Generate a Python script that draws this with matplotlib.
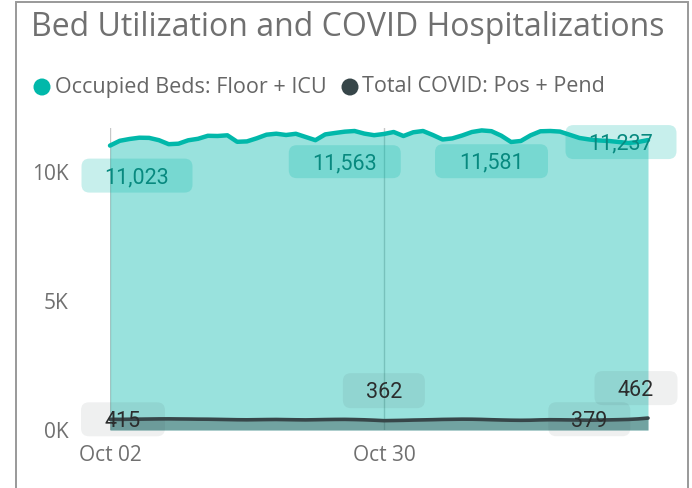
import matplotlib
matplotlib.use("Agg")
import matplotlib.pyplot as plt
import matplotlib.dates as mdates
from matplotlib.patches import FancyBboxPatch, Rectangle, Circle
from matplotlib.transforms import IdentityTransform
import pandas as pd

# ---------------- data ----------------
dates = pd.date_range("2020-10-02", periods=56, freq="D")
beds = [11023, 11209, 11279, 11329, 11322, 11233, 11078, 11097, 11229, 11287,
        11403, 11395, 11422, 11170, 11186, 11306, 11446, 11484, 11434, 11481,
        11357, 11233, 11457, 11512, 11563, 11589, 11488, 11426, 11473, 11550,
        11395, 11539, 11589, 11434, 11260, 11302, 11415, 11550, 11612, 11581,
        11407, 11163, 11202, 11422, 11578, 11589, 11566, 11442, 11318, 11260,
        11221, 11202, 11163, 11124, 11163, 11237]
covid = [415, 412, 418, 420, 425, 430, 432, 428, 425, 420,
         418, 412, 405, 398, 395, 400, 405, 408, 402, 396,
         392, 398, 405, 410, 412, 405, 395, 380, 362, 368,
         375, 385, 392, 400, 410, 415, 420, 418, 410, 398,
         388, 380, 376, 380, 392, 398, 395, 390, 385, 379,
         385, 392, 400, 410, 430, 462]
series_names = ["Occupied Beds: Floor + ICU", "Total COVID: Pos + Pend"]
title = "Bed Utilization and COVID Hospitalizations"
tick_dates = ["2020-10-02", "2020-10-30"]
tick_labels = ["Oct 02", "Oct 30"]
y_ticks = [0, 5000, 10000]
y_tick_labels = ["0K", "5K", "10K"]

# ---------------- style ----------------
TEAL = "#01B8AA"
DARK = "#374649"
GREY_TXT = "#707070"
UI_FONT = ["Open Sans", "DejaVu Sans"]
LBL_FONT = ["Roboto", "DejaVu Sans"]

W, H = 692, 488
fig = plt.figure(figsize=(W / 100, H / 100), dpi=100)


def rect_px(x0, y0, x1, y1):
    return [x0 / W, 1 - y1 / H, (x1 - x0) / W, (y1 - y0) / H]


ax = fig.add_axes(rect_px(110, 128, 648, 430))
x = mdates.date2num(dates)

ax.fill_between(x, 0, beds, color=TEAL, alpha=0.4, lw=0, zorder=2)
ax.fill_between(x, 0, covid, color=DARK, alpha=0.4, lw=0, zorder=3)
ax.plot(x, beds, color=TEAL, lw=3.2, solid_joinstyle="round",
        solid_capstyle="round", zorder=5, clip_on=False)
ax.plot(x, covid, color=DARK, lw=2.6, solid_joinstyle="round",
        solid_capstyle="round", zorder=5, clip_on=False)

ax.set_xlim(x[0], x[-1])
ax.set_ylim(0, 11705)

ax.set_xticks(mdates.date2num(pd.to_datetime(tick_dates)))
ax.set_xticklabels(tick_labels, family=UI_FONT, fontsize=15, color=GREY_TXT)
ax.set_yticks(y_ticks)
ax.set_yticklabels(y_tick_labels, family=UI_FONT, fontsize=15, color=GREY_TXT)
ax.tick_params(axis="x", length=0, pad=10.5)
ax.tick_params(axis="y", length=0, pad=30)
for s in ax.spines.values():
    s.set_visible(False)
ax.grid(axis="x", color="#C8C8C8", lw=1)
ax.grid(axis="y", visible=False)
ax.set_axisbelow(True)

# ---------------- data labels ----------------
teal_box = (1 / 255, 184 / 255, 170 / 255, 0.22)
dark_box = (55 / 255, 70 / 255, 73 / 255, 0.08)

# (values, index, dx_px, dy_px (down), w, h, facecolor, textcolor)
label_specs = [
    (beds, 0, 27, 30, 111, 34, teal_box, "#0A7D74"),
    (beds, 24, 0, 30, 112, 33, teal_box, "#0A7D74"),
    (beds, 39, 0, 30, 113, 34, teal_box, "#0A7D74"),
    (beds, 55, -27, 2, 111, 34, teal_box, "#0A7D74"),
    (covid, 0, 13, 0, 84, 34, dark_box, "#2b2b2b"),
    (covid, 28, 0, -30, 82, 35, dark_box, "#2b2b2b"),
    (covid, 49, 0, -1, 82, 34, dark_box, "#2b2b2b"),
    (covid, 55, -12, -30, 83, 34, dark_box, "#2b2b2b"),
]
for vals, i, dx, dy, w, h, fc, tc in label_specs:
    xd, yd = ax.transData.transform((x[i], vals[i]))
    cx, cy = xd + dx, yd - dy
    box = FancyBboxPatch((cx - w / 2, cy - h / 2), w, h,
                         boxstyle="round,pad=0,rounding_size=8",
                         transform=IdentityTransform(), fc=fc, ec="none",
                         zorder=6)
    fig.add_artist(box)
    ax.annotate(f"{vals[i]:,}", xy=(x[i], vals[i]),
                xytext=(dx * 0.72, -(dy + 2) * 0.72), textcoords="offset points",
                ha="center", va="center", fontsize=15.5, color=tc,
                family=LBL_FONT, zorder=7, annotation_clip=False)

# ---------------- title & legend ----------------
fig.text(31 / W, 1 - 28 / H, title, family=UI_FONT,
         fontsize=23, color="#707070", ha="left", va="center")

legend_items = [(42, 55, TEAL, series_names[0]), (350, 362, DARK, series_names[1])]
for cxp, txp, col, name in legend_items:
    fig.add_artist(Circle((cxp, H - 87), 8.5, transform=IdentityTransform(),
                          fc=col, ec="none"))
    fig.text(txp / W, 1 - 87 / H, name, family=UI_FONT, fontsize=15.5,
             color="#666666", ha="left", va="center")

# outer frame
fig.add_artist(Rectangle((16, -10), 672, H - 2 + 10, transform=IdentityTransform(),
                         fill=False, ec="#999999", lw=1.4))

fig.savefig("out.png", dpi=100)
